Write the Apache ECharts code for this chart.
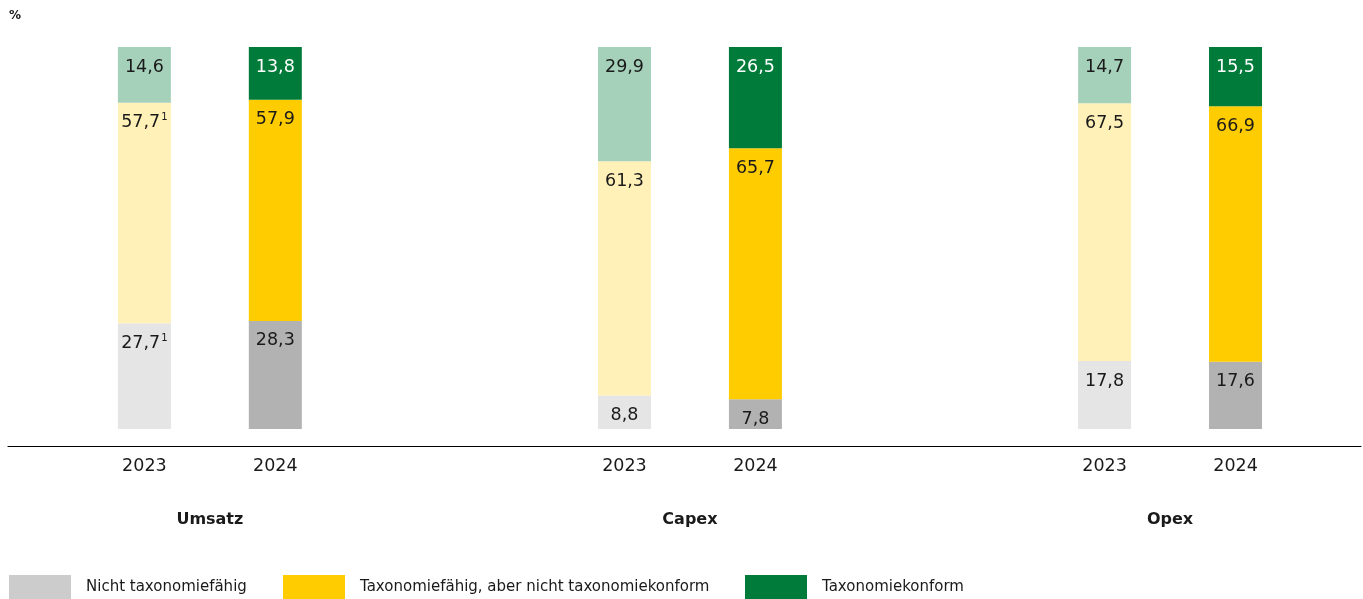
<!DOCTYPE html>
<html>
<head>
<meta charset="utf-8">
<script src="https://cdn.jsdelivr.net/npm/echarts@6/dist/echarts.min.js"></script>
<style>
  html, body { margin: 0; padding: 0; background: #fff; }
  #mychart { width: 1363px; height: 599px; }
</style>
</head>
<body>
<div id="mychart"></div>
<script>
// Gruppen und Jahre
const groups = ['Umsatz', 'Capex', 'Opex']
const years = ['2023', '2024']

// Werte in % (Umsatz, Capex, Opex)
const nicht2023 = [27.7, 8.8, 17.8]
const nicht2024 = [28.3, 7.8, 17.6]
const faehig2023 = [57.7, 61.3, 67.5]
const faehig2024 = [57.9, 65.7, 66.9]
const konform2023 = [14.6, 29.9, 14.7]
const konform2024 = [13.8, 26.5, 15.5]

// Fußnoten an den Werten 2023
const noteNicht2023 = ['1', '', '']
const noteFaehig2023 = ['1', '', '']

const legendNames = ['Nicht taxonomiefähig', 'Taxonomiefähig, aber nicht taxonomiekonform', 'Taxonomiekonform']

const FONT = 'DejaVu Sans'
const SLOTS = 124
const barIndex = (g, j) => 12 + g * 44 + j * 12
const groupIndex = g => 18 + g * 44

const yearCats = new Array(SLOTS).fill('')
const groupCats = new Array(SLOTS).fill('')
groups.forEach((name, g) => {
  years.forEach((y, j) => { yearCats[barIndex(g, j)] = y })
  groupCats[groupIndex(g)] = name
})

function fmt (v) {
  return v.toFixed(1).replace('.', ',')
}

function buildData (v2023, v2024, c2023, c2024, t2023, t2024, notes) {
  const data = new Array(SLOTS).fill('-')
  groups.forEach((name, g) => {
    data[barIndex(g, 0)] = {
      value: v2023[g],
      note: notes ? notes[g] : '',
      itemStyle: { color: c2023 },
      label: { color: t2023 }
    }
    data[barIndex(g, 1)] = {
      value: v2024[g],
      note: '',
      itemStyle: { color: c2024 },
      label: { color: t2024 }
    }
  })
  return data
}

const labelCfg = {
  show: true,
  position: 'insideTop',
  distance: 10,
  fontFamily: FONT,
  fontSize: 17.5,
  formatter: p => {
    if (p.value === '-' || p.value == null) return ''
    const note = p.data.note
    return note ? '{v|' + fmt(p.value) + '}{s|' + note + '}' : '{v|' + fmt(p.value) + '}'
  },
  rich: {
    v: { fontFamily: FONT, fontSize: 17.5, lineHeight: 20 },
    s: { fontFamily: FONT, fontSize: 10, lineHeight: 20, verticalAlign: 'top', padding: [0, 0, 8, 1] }
  }
}

let myChart = echarts.init(document.getElementById('mychart'))
myChart.setOption({
  animation: false,
  title: {
    text: '%',
    left: 9,
    top: 10,
    padding: 0,
    textStyle: { fontFamily: FONT, fontSize: 12, fontWeight: 'bold', color: '#1a1a1a' }
  },
  legend: [0, 1, 2].map((i) => ({
    left: [9, 283, 745][i],
    top: 575,
    padding: 0,
    itemWidth: 62,
    itemHeight: 24,
    icon: 'rect',
    selectedMode: false,
    data: [{ name: legendNames[i], itemStyle: { color: ['#cccccc', '#ffcc00', '#007b3a'][i] } }],
    textStyle: { fontFamily: FONT, fontSize: 15, color: '#1a1a1a', padding: [6, 0, 0, 10] }
  })),
  grid: {
    left: 8,
    right: 2,
    top: 47,
    bottom: 170
  },
  xAxis: [
    {
      type: 'category',
      data: yearCats,
      offset: 17,
      axisLine: { show: true, onZero: false, lineStyle: { color: '#000', width: 1.2 } },
      axisTick: { show: false },
      axisLabel: { interval: 0, margin: 11, fontFamily: FONT, fontSize: 17.5, color: '#1a1a1a' }
    },
    {
      type: 'category',
      data: groupCats,
      position: 'bottom',
      offset: 17,
      axisLine: { show: false, onZero: false },
      axisTick: { show: false },
      axisLabel: { interval: 0, margin: 66, fontFamily: FONT, fontSize: 16, fontWeight: 'bold', color: '#1a1a1a' }
    }
  ],
  yAxis: {
    type: 'value',
    min: 0,
    max: 100,
    show: false
  },
  series: [
    {
      name: legendNames[0],
      type: 'bar',
      stack: 'total',
      barWidth: 53,
      label: labelCfg,
      data: buildData(nicht2023, nicht2024, '#e5e5e5', '#b2b2b2', '#1a1a1a', '#1a1a1a', noteNicht2023)
    },
    {
      name: legendNames[1],
      type: 'bar',
      stack: 'total',
      barWidth: 53,
      label: labelCfg,
      data: buildData(faehig2023, faehig2024, '#fff1b8', '#ffcc00', '#1a1a1a', '#1a1a1a', noteFaehig2023)
    },
    {
      name: legendNames[2],
      type: 'bar',
      stack: 'total',
      barWidth: 53,
      label: labelCfg,
      data: buildData(konform2023, konform2024, '#a5d1bb', '#007b3a', '#1a1a1a', '#ffffff', null)
    }
  ]
})
</script>
</body>
</html>
